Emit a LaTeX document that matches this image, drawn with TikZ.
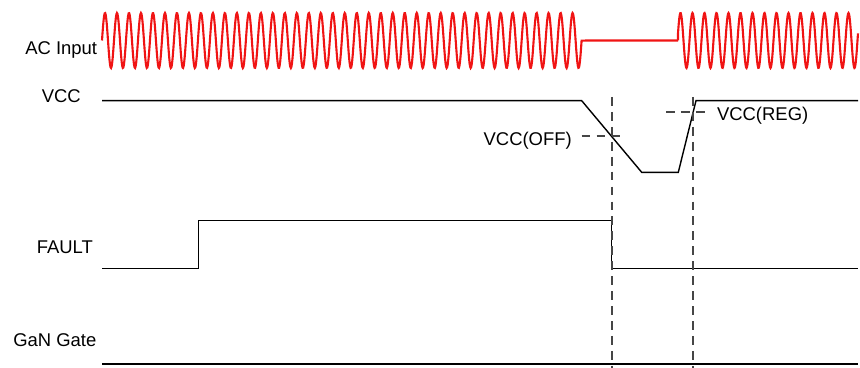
\documentclass[tikz,border=0pt]{standalone}
\usepackage{fontspec}
\setmainfont{Liberation Sans}
\definecolor{acred}{RGB}{240,20,20}
\definecolor{guide}{RGB}{70,70,70}

\begin{document}
\begin{tikzpicture}[x=0.02cm, y=-0.02cm, line join=miter,
  sig/.style={black, line width=0.8pt},
  acwave/.style={acred, line width=1.2pt},
  marker/.style={guide, line width=1.1pt, dash pattern=on 5pt off 3.5pt},
  lbl/.style={anchor=base west, inner sep=0pt, font=\fontsize{10.5}{12}\selectfont}]
  \useasboundingbox (0,0) rectangle (860,368);
  % signal names
  \node[lbl] (acin) at (25,55) {AC Input};
  \node[lbl] (vcc) at (41.5,102.7) {VCC};
  \node[lbl] (fault) at (36.5,253.3) {FAULT};
  \node[lbl] (gan) at (13,346.7) {GaN Gate};
  % AC input: on, dropout, on again
  \draw[acwave] plot[domain=102:581.6, samples=900] (\x,{40.5-27.5*sin(((\x-102)/11.99)*360)})
    -- (678,40.5);
  \draw[acwave] (678,40.5) -- plot[domain=678:858, samples=400] (\x,{40.5-27.5*sin(15+((\x-678)/12)*360)});
  % VCC
  \draw[sig] (102,100.7) -- (581.7,100.7) -- (641.7,172.3) -- (678.3,172.3) -- (696,100.7) -- (858,100.7);
  % FAULT
  \draw[sig] (102,268.3) -- (198.3,268.3) -- (198.3,220.7) -- (611.7,220.7) -- (611.7,268.3) -- (858,268.3);
  % GaN gate stays low
  \draw[sig] (102,364) -- (858,364);
  % threshold markers
  \draw[marker] (612.3,97) -- (612.3,368);
  \draw[marker] (692.9,97) -- (692.9,368);
  \draw[marker] (581.7,135.7) -- (623.3,135.7);
  \draw[marker] (666,112.3) -- (707.3,112.3);
  \node[lbl] (voff) at (483.3,145.7) {VCC(OFF)};
  \node[lbl] (vreg) at (716.7,120.7) {VCC(REG)};
\end{tikzpicture}
\end{document}
